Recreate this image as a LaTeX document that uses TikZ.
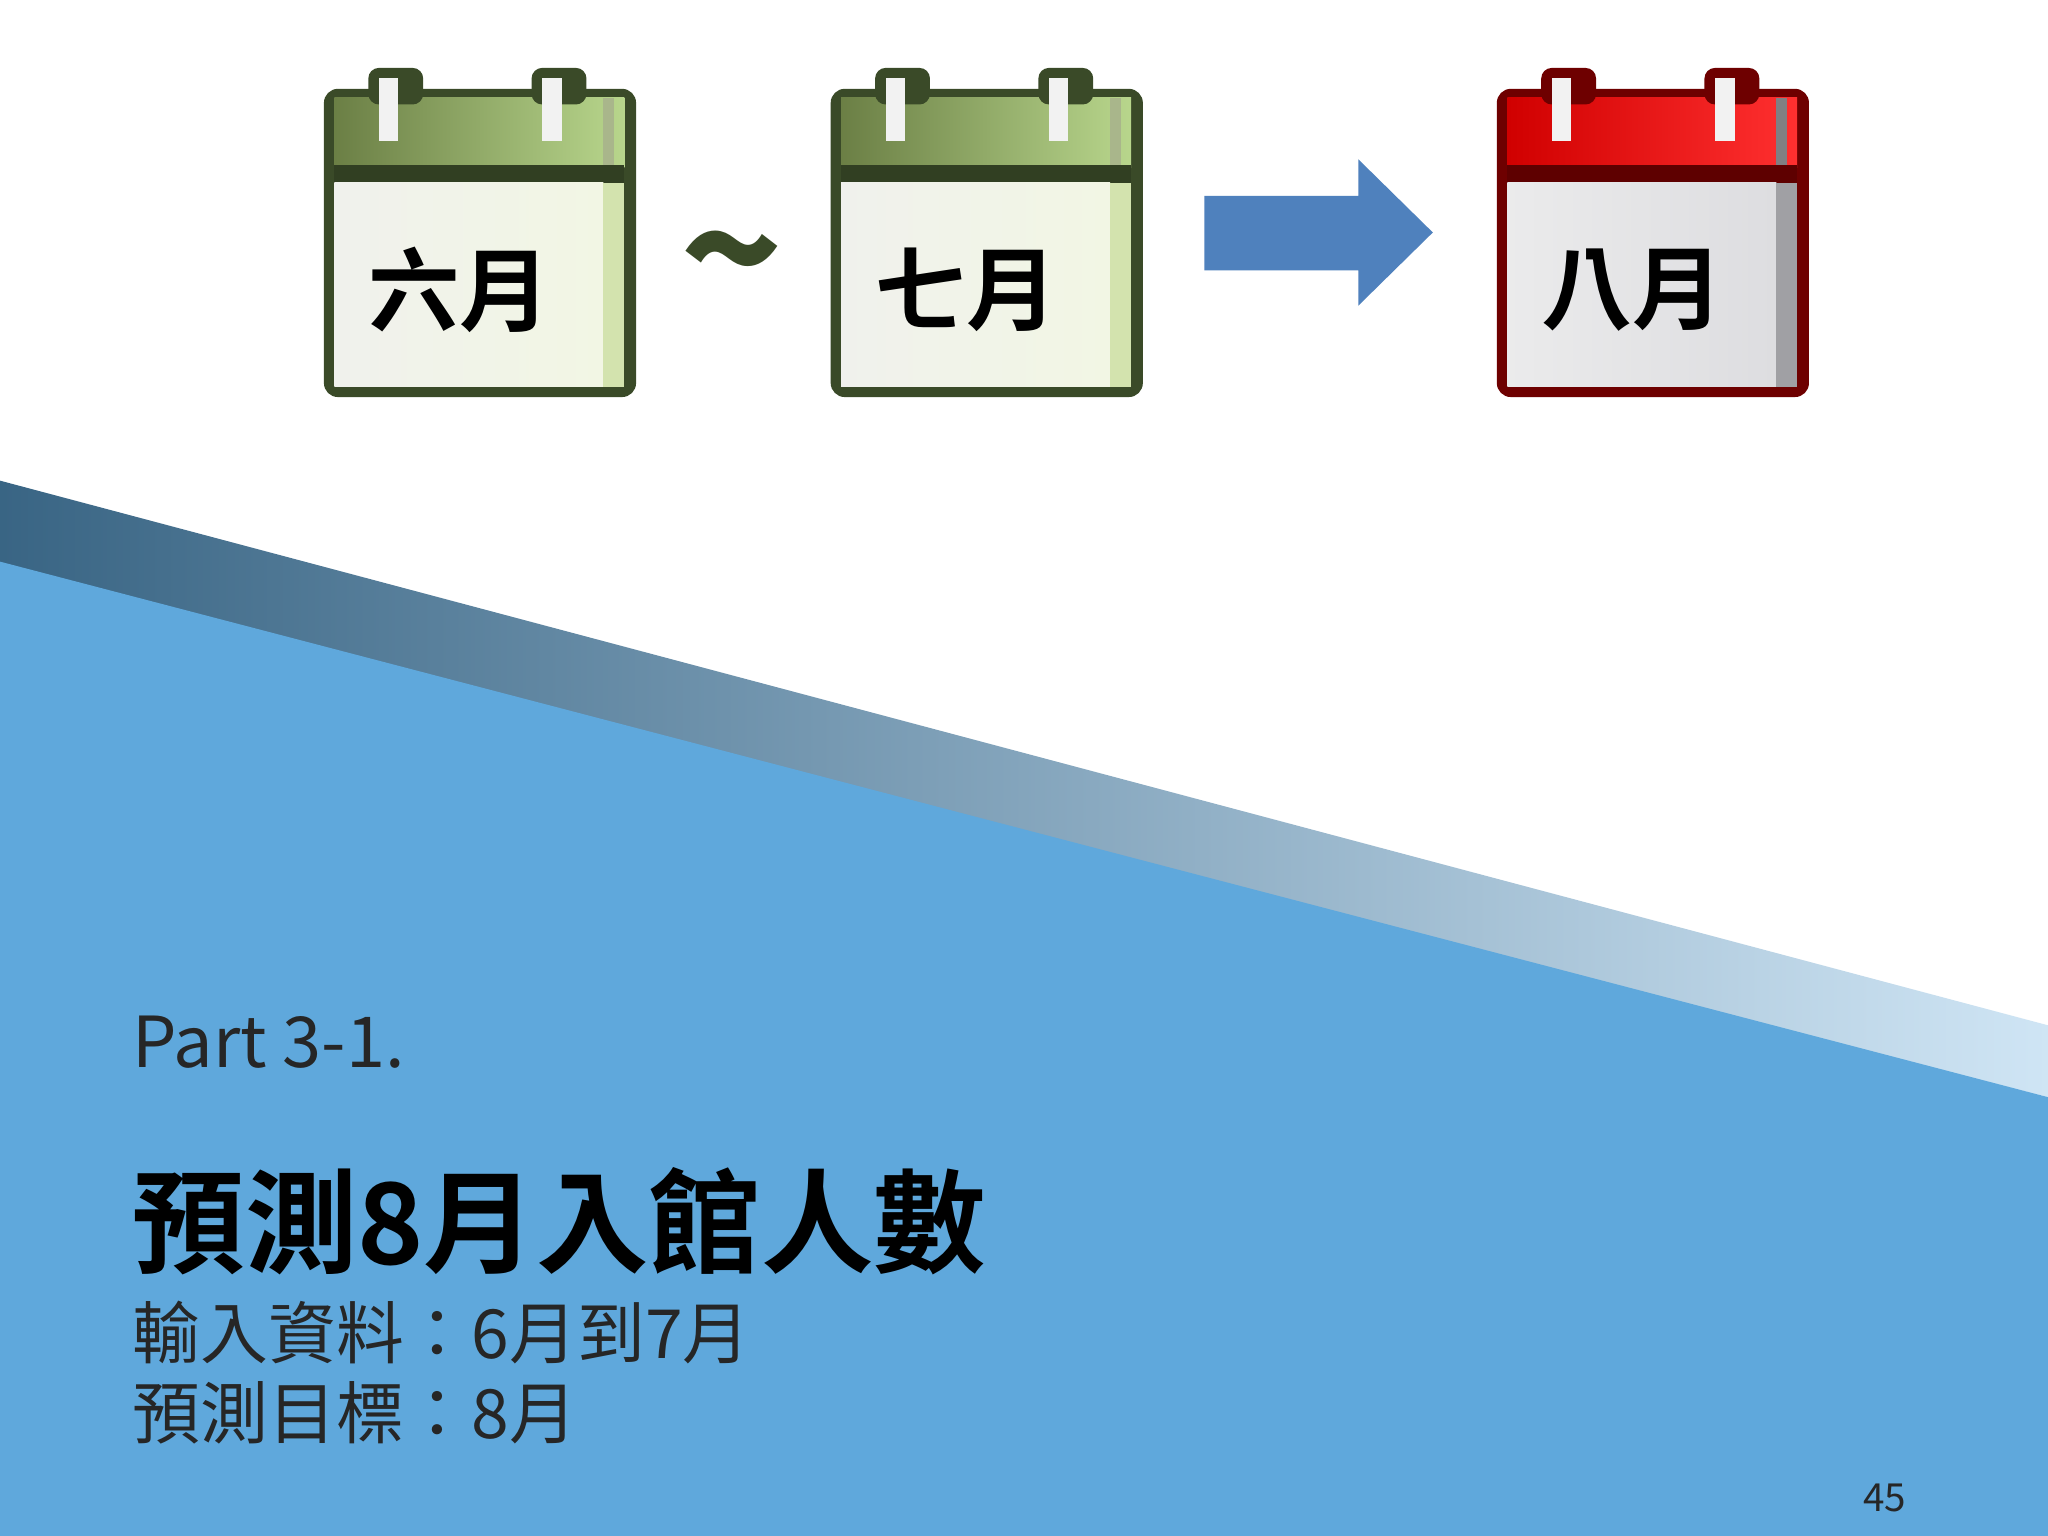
\documentclass[tikz,border=0pt]{standalone}
\usepackage{fontspec}
\setmainfont{Noto Sans CJK TC}
\newfontfamily\cjkb{Noto Sans CJK TC Black}
\newfontfamily\cjkbb{Noto Sans CJK TC Bold}
\definecolor{bgblue}{HTML}{5FA8DC}
\definecolor{arrowblue}{HTML}{4F81BD}
\definecolor{gdark}{HTML}{3A4A28}
\definecolor{gheadl}{HTML}{6B7F45}
\definecolor{gheadr}{HTML}{B8D68C}
\definecolor{gbody}{HTML}{F2F6E4}
\definecolor{gstrip}{HTML}{D3E3AE}
\definecolor{rdark}{HTML}{6E0000}
\definecolor{rheadl}{HTML}{D00000}
\definecolor{rheadr}{HTML}{FF3030}
\definecolor{rbody}{HTML}{DDDDE0}
\definecolor{rstrip}{HTML}{A0A0A4}
\tikzset{
  caltext/.style={font=\cjkbb\fontsize{26}{26}\selectfont, anchor=center},
  label/.style={anchor=west, text=black!85},
}
\newcommand{\mycalicon}[6]{%
 \begin{scope}[shift={(#1,0)}]
  \fill[#2, rounded corners=4] (248,68) rectangle (487,304);
  \shade[left color=#3, right color=#4] (256,75) rectangle (478,128);
  \fill[#2!85!black] (256,126) rectangle (478,140);
  \shade[left color=#5!85!black!30!white, right color=#5] (256,140) rectangle (462,296);
  \fill[#6] (462,140) rectangle (478,296);
  \fill[#6!80!black] (462,75) rectangle (470,126);
  \foreach \px in {282,407}{
    \fill[#2, rounded corners=3] (\px,52) rectangle (\px+42,80);
    \fill[white!90!gray] (\px+8,60) rectangle (\px+23,108);
  }
 \end{scope}}
\begin{document}
\begin{tikzpicture}[x=0.013061cm,y=-0.013061cm]
\useasboundingbox (0,0) rectangle (1568,1176);
\fill[white] (0,0) rectangle (1568,1176);
\shade[left color=bgblue!60!black, right color=bgblue!30!white] (0,368) -- (1568,785) -- (1568,840) -- (0,440) -- cycle;
\fill[bgblue] (0,430) -- (1568,840) -- (1568,1176) -- (0,1176) -- cycle;
\mycalicon{0}{gdark}{gheadl}{gheadr}{gbody}{gstrip}
\mycalicon{388}{gdark}{gheadl}{gheadr}{gbody}{gstrip}
\mycalicon{898}{rdark}{rheadl}{rheadr}{rbody}{rstrip}
\node[caltext] (c1) at (352,222) {六月};
\node[caltext] (c2) at (740,222) {七月};
\node[caltext] (c3) at (1250,222) {八月};
\node[font=\cjkb\fontsize{48}{48}\selectfont, text=gdark, inner sep=0pt] (t) at (560,208) {\textasciitilde};
\fill[arrowblue] (922,150) -- (1040,150) -- (1040,122) -- (1097,178) -- (1040,234) -- (1040,207) -- (922,207) -- cycle;
\node[label, font=\fontsize{20}{20}\selectfont] (p) at (92,798) {Part 3-1.};
\node[label, font=\cjkbb\fontsize{32}{32}\selectfont, text=black] (h) at (92,935) {預測8月入館人數};
\node[label, font=\fontsize{19.3}{19.3}\selectfont] (s1) at (92,1020) {輸入資料：6月到7月};
\node[label, font=\fontsize{19.3}{19.3}\selectfont] (s2) at (92,1082) {預測目標：8月};
\node[font=\fontsize{11}{11}\selectfont, text=black!85] (n) at (1443,1147) {45};
\end{tikzpicture}
\end{document}
